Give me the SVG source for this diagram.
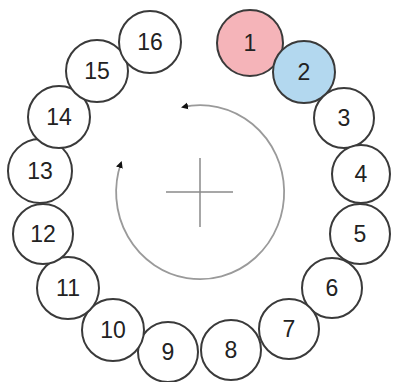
<svg xmlns="http://www.w3.org/2000/svg" width="394" height="382" viewBox="0 0 394 382">
<style>
.n circle{fill:#fff;stroke:#3a3a3a;stroke-width:2}
.n text{font-family:"Liberation Sans",Arial,sans-serif;font-size:23px;fill:#222;text-anchor:middle}
.arc{fill:none;stroke:#9a9a9a;stroke-width:1.8}
.cross{stroke:#8a8a8a;stroke-width:1.5}
</style>
<defs>
<marker id="ah" markerWidth="8" markerHeight="8" refX="5" refY="4" orient="auto-start-reverse" markerUnits="userSpaceOnUse">
<path d="M0,0.5 L7,4 L0,7.5 Z" fill="#111"/>
</marker>
</defs>
<rect width="394" height="382" fill="#fff"/>
<g id="connectors">
<path class="arc" d="M121,163 A84,87 0 1,0 183,107" marker-start="url(#ah)" marker-end="url(#ah)"/>
<line class="cross" x1="166" y1="192" x2="233" y2="192"/>
<line class="cross" x1="200" y1="158" x2="200" y2="227"/>
</g>
<g id="n1" class="n"><circle cx="250" cy="43" r="33" style="fill:#f5b4b9"/><text x="250" y="51">1</text></g>
<g id="n2" class="n"><circle cx="304" cy="72" r="31" style="fill:#b3d8ef"/><text x="304" y="80">2</text></g>
<g id="n3" class="n"><circle cx="344" cy="118" r="30"/><text x="344" y="126">3</text></g>
<g id="n4" class="n"><circle cx="361" cy="174" r="29"/><text x="361" y="182">4</text></g>
<g id="n5" class="n"><circle cx="360" cy="234" r="30"/><text x="360" y="242">5</text></g>
<g id="n6" class="n"><circle cx="332" cy="288" r="30"/><text x="332" y="296">6</text></g>
<g id="n7" class="n"><circle cx="289" cy="329" r="30"/><text x="289" y="337">7</text></g>
<g id="n8" class="n"><circle cx="231" cy="350" r="30"/><text x="231" y="358">8</text></g>
<g id="n9" class="n"><circle cx="168" cy="352" r="30"/><text x="168" y="360">9</text></g>
<g id="n10" class="n"><circle cx="113" cy="330" r="31"/><text x="113" y="338">10</text></g>
<g id="n11" class="n"><circle cx="68" cy="288" r="31"/><text x="68" y="296">11</text></g>
<g id="n12" class="n"><circle cx="43" cy="234" r="30"/><text x="43" y="242">12</text></g>
<g id="n13" class="n"><circle cx="40" cy="171" r="32"/><text x="40" y="179">13</text></g>
<g id="n14" class="n"><circle cx="59" cy="117" r="31"/><text x="59" y="125">14</text></g>
<g id="n15" class="n"><circle cx="97" cy="71" r="31"/><text x="97" y="79">15</text></g>
<g id="n16" class="n"><circle cx="150" cy="42" r="31"/><text x="150" y="50">16</text></g>
</svg>
